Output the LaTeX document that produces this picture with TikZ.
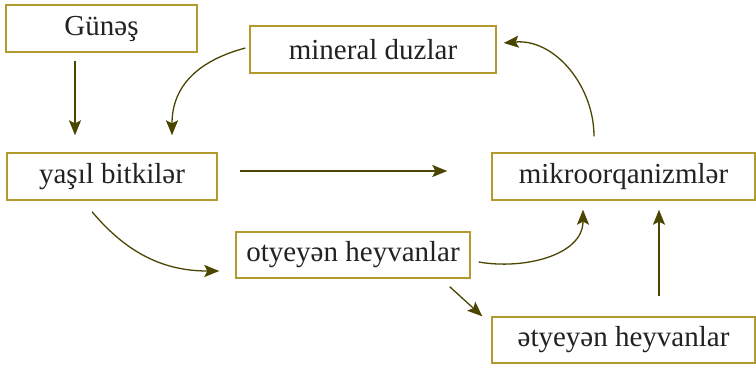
\documentclass[tikz,border=0pt]{standalone}
\usepackage{fontspec}
\setmainfont{Liberation Serif}
\usetikzlibrary{arrows.meta}
\definecolor{boxc}{HTML}{B39A30}
\definecolor{arrc}{HTML}{4A4500}
\definecolor{txtc}{HTML}{222222}
\tikzset{
  box/.style={draw=boxc, line width=1.4pt, fill=white, text=txtc, inner sep=0pt,
    font=\fontsize{29}{34}\selectfont},
  arr/.style={draw=arrc, line width=1.3pt, -{Stealth[length=15pt,width=12pt,inset=3pt]}}
}
\begin{document}
\begin{tikzpicture}[x=1pt,y=-1pt]
\useasboundingbox (0,0) rectangle (756,368);
\node[box, minimum width=191pt, minimum height=47pt] (gunes) at (101.5,28.5) {Günəş};
\node[box, minimum width=246pt, minimum height=47pt] (mineral) at (373,49.5) {mineral duzlar};
\node[box, minimum width=263pt, minimum height=47pt] (mikro) at (623.5,176.5) {mikroorqanizmlər};
\node[box, minimum width=210pt, minimum height=47pt] (yasil) at (112,176.5) {yaşıl bitkilər};
\node[box, minimum width=234pt, minimum height=46pt] (otyeyen) at (353,255) {otyeyən heyvanlar};
\node[box, minimum width=263pt, minimum height=46pt] (etyeyen) at (623.5,340) {ətyeyən heyvanlar};

\draw[arr] ([xshift=-26.5pt,yshift=-8pt]gunes.south) -- ([xshift=-37pt,yshift=17pt]yasil.north);
\draw[arr] ([xshift=-4pt,yshift=1.5pt]mineral.west) to[out=195,in=90,looseness=1.1] ([xshift=60pt,yshift=17pt]yasil.north);
\draw[arr] ([xshift=-29.5pt,yshift=16pt]mikro.north) to[out=90,in=5] ([xshift=7pt,yshift=6.5pt]mineral.east);
\draw[arr] ([xshift=22pt,yshift=5.5pt]yasil.east) -- ([xshift=-44pt,yshift=5.5pt]mikro.west);
\draw[arr] ([xshift=-20pt,yshift=-11pt]yasil.south) to[out=-50,in=180] ([xshift=-16pt,yshift=-16pt]otyeyen.west);
\draw[arr] ([xshift=8pt,yshift=-7pt]otyeyen.east) to[out=-10,in=-90] ([xshift=-40.5pt,yshift=-9pt]mikro.south);
\draw[arr] ([xshift=-21pt,yshift=-8pt]otyeyen.south east) -- ([xshift=-9pt]etyeyen.north west);
\draw[arr] ([xshift=35.5pt,yshift=20pt]etyeyen.north) -- ([xshift=35.5pt,yshift=-9pt]mikro.south);
\end{tikzpicture}
\end{document}
